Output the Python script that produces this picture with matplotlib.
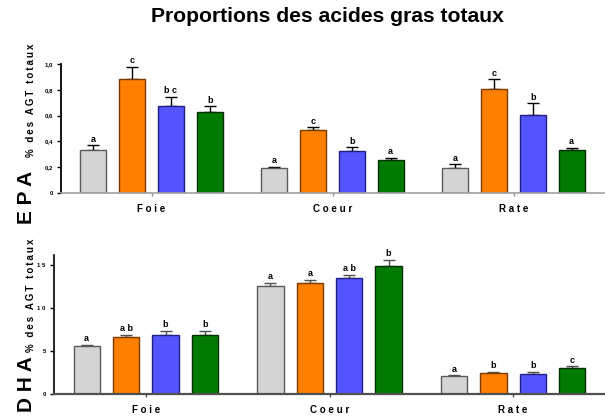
import numpy as np
import matplotlib
matplotlib.use("Agg")
import matplotlib.pyplot as plt

plt.rcParams['font.family'] = ['Liberation Sans', 'DejaVu Sans']

organes = ["Foie", "Coeur", "Rate"]

# EPA (% des AGT totaux), one list per régime, order Foie / Coeur / Rate
epa_gris = [0.334, 0.192, 0.192]
epa_orange = [0.883, 0.487, 0.806]
epa_bleu = [0.674, 0.326, 0.604]
epa_vert = [0.627, 0.256, 0.332]
epa_err_gris = [0.036, 0.012, 0.031]
epa_err_orange = [0.094, 0.023, 0.077]
epa_err_bleu = [0.070, 0.029, 0.090]
epa_err_vert = [0.047, 0.016, 0.020]
epa_lettres = [["a", "c", "bc", "b"], ["a", "c", "b", "a"], ["a", "c", "b", "a"]]

# DHA
dha_gris = [5.55, 12.56, 2.05]
dha_orange = [6.59, 12.98, 2.44]
dha_bleu = [6.83, 13.49, 2.33]
dha_vert = [6.83, 14.88, 3.06]
dha_err_gris = [0.15, 0.42, 0.12]
dha_err_orange = [0.31, 0.36, 0.16]
dha_err_bleu = [0.53, 0.43, 0.23]
dha_err_vert = [0.53, 0.78, 0.16]
dha_lettres = [["a", "ab", "b", "b"], ["a", "a", "ab", "b"], ["a", "b", "b", "c"]]

couleurs = ["#D4D4D4", "#FF8000", "#5555FF", "#007A00"]
bords = ["#5A5A5A", "#7A3A00", "#202080", "#003000"]

W, H = 605, 416
fig = plt.figure(figsize=(W / 100, H / 100), dpi=100)


def espacer(txt, sep="\u200a"):
    return sep.join(txt)


def panneau(rect, series, erreurs, lettres, ymax, ticks, ticklabels, couleur_axes, couleur_err):
    ax = fig.add_axes(rect)
    x = np.arange(len(organes))
    pas = 0.2145
    for i, (vals, errs) in enumerate(zip(series, erreurs)):
        pos = x + (i - 1.5) * pas
        ax.bar(pos, vals, width=0.144, color=couleurs[i], edgecolor=bords[i], linewidth=1.0, zorder=2)
        ax.errorbar(pos, vals, yerr=[np.zeros(len(vals)), errs], fmt="none",
                    ecolor=couleur_err, elinewidth=1.0, capsize=4.6, capthick=1.0, zorder=1)
        for j in range(len(vals)):
            ax.text(pos[j], vals[j] + errs[j] + ymax * 0.012, espacer(lettres[j][i], " "),
                    ha="center", va="bottom", fontsize=6.5, fontweight="bold")
    ax.set_xlim(-0.5, 2.5)
    ax.set_ylim(0, ymax)
    ax.set_yticks(ticks)
    ax.set_yticklabels(ticklabels, fontsize=4.3, fontweight="bold")
    ax.set_xticks(x)
    ax.set_xticklabels([espacer(o, " ") for o in organes], fontsize=7, fontweight="bold")
    ax.tick_params(axis="x", length=2, width=1, pad=6, colors=couleur_axes, labelcolor="black")
    ax.tick_params(axis="y", length=3, width=1, pad=3)
    for s in ["top", "right"]:
        ax.spines[s].set_visible(False)
    return ax


# EPA
ax1 = panneau([61 / W, 1 - 193 / H, 543 / W, 129 / H],
              [epa_gris, epa_orange, epa_bleu, epa_vert],
              [epa_err_gris, epa_err_orange, epa_err_bleu, epa_err_vert],
              epa_lettres, 1.0, [0, 0.2, 0.4, 0.6, 0.8, 1.0],
              ["0", "0,2", "0,4", "0,6", "0,8", "1,0"], "#909090", "black")
ax1.spines["bottom"].set_color("#A0A0A0")
ax1.spines["bottom"].set_linewidth(1.2)
ax1.spines["left"].set_linewidth(1.3)

# DHA
ax2 = panneau([54 / W, 1 - 394 / H, 551 / W, 139 / H],
              [dha_gris, dha_orange, dha_bleu, dha_vert],
              [dha_err_gris, dha_err_orange, dha_err_bleu, dha_err_vert],
              dha_lettres, 16.2, [0, 5, 10, 15], ["0", "5", "1 0", "1 5"],
              "#505050", "#505050")
ax2.spines["bottom"].set_color("#505050")
ax2.spines["bottom"].set_linewidth(1.6)
ax2.spines["left"].set_linewidth(1.2)

fig.text(327 / W, 1 - 17 / H, "Proportions des acides gras totaux",
         ha="center", va="center", fontsize=15.2, fontweight="bold")

# titres d'axe verticaux
fig.text(27 / W, 1 - 197 / H, "E P A", rotation=90, ha="center", va="center",
         fontsize=15, fontweight="bold")
fig.text(31 / W, 1 - 100 / H, espacer("% des AGT totaux", "\u2009"), rotation=90,
         ha="center", va="center", fontsize=7, fontweight="bold")
fig.text(27 / W, 1 - 384 / H, "D H A", rotation=90, ha="center", va="center",
         fontsize=15, fontweight="bold")
fig.text(31 / W, 1 - 295 / H, espacer("% des AGT totaux", "\u2009"), rotation=90,
         ha="center", va="center", fontsize=7, fontweight="bold")

fig.savefig("out.png", dpi=100)
